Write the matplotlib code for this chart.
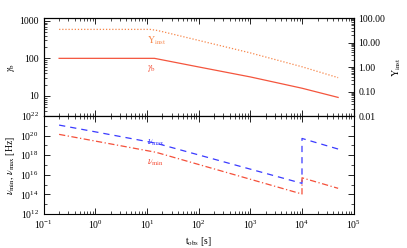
import matplotlib
matplotlib.use("Agg")
import matplotlib.pyplot as plt
from matplotlib.ticker import LogLocator, NullFormatter, FixedLocator, FixedFormatter

plt.rcParams['font.family'] = ['Liberation Serif', 'DejaVu Serif']
plt.rcParams['mathtext.fontset'] = 'stix'
plt.rcParams['font.size'] = 7

# gamma_b (left axis) and Y_inst (right axis), top panel
t_gam = [0.2, 14.0, 100.0, 1000.0, 1.0e4, 5.0e4]
gamma_b = [100.0, 100.0, 59.0, 32.0, 16.0, 9.1]

t_y = [0.2, 11.5, 15.0, 20.5, 100.0, 1000.0, 1.0e4, 5.0e4]
y_inst = [34.6, 34.6, 32.0, 27.6, 12.3, 3.8, 1.03, 0.37]

# nu_max / nu_min, bottom panel
t_nu = [0.2, 15.0, 1.0e4, 1.0e4, 5.0e4]
nu_max = [1.2e21, 1.7e19, 1.35e15, 5.2e19, 4.3e18]
nu_min = [1.35e20, 2.0e18, 1.1e14, 5.0e15, 4.2e14]

c_gam = '#f4553d'
c_y = '#f7864a'
c_max = '#3a3aff'
c_min = '#f5503a'

fig = plt.figure(figsize=(4.07, 2.48), dpi=100)
ax1 = fig.add_axes([0.107, 0.532, 0.762, 0.395])
ax2 = fig.add_axes([0.107, 0.137, 0.762, 0.395], sharex=ax1)

ax1.plot(t_gam, gamma_b, color=c_gam, lw=0.9)
ax1.set_xscale('log')
ax1.set_yscale('log')
ax1.set_xlim(0.1, 1e5)
ax1.set_ylim(2.9, 1180)
ax1.yaxis.set_major_locator(FixedLocator([10, 100, 1000]))
ax1.yaxis.set_major_formatter(FixedFormatter(['10', '100', '1000']))
ax1.yaxis.set_minor_locator(LogLocator(base=10, subs=range(2, 10), numticks=10))
ax1.yaxis.set_minor_formatter(NullFormatter())
ax1.set_ylabel(r'$\gamma_{\rm b}$')
ax1.yaxis.set_label_coords(-0.085, 0.5)
ax1.text(10, 75, r'$\gamma_{\rm b}$', color=c_gam, fontsize=7, va='top')

ax1r = ax1.twinx()
ax1r.plot(t_y, y_inst, color=c_y, lw=0.9, ls=(0, (1, 1.5)))
ax1r.set_yscale('log')
ax1r.set_ylim(0.01, 100)
ax1r.yaxis.set_major_locator(FixedLocator([0.01, 0.1, 1, 10, 100]))
ax1r.yaxis.set_major_formatter(FixedFormatter(['0.01', '0.10', '1.00', '10.00', '100.00']))
ax1r.yaxis.set_minor_formatter(NullFormatter())
ax1r.set_ylabel(r'$\mathrm{Y}_{\rm inst}$')
ax1r.yaxis.set_label_coords(1.12, 0.5)
ax1r.text(10, 22, r'$\mathrm{Y}_{\rm inst}$', color=c_y, fontsize=7, va='top')

ax2.plot(t_nu, nu_max, color=c_max, lw=0.9, ls=(0, (5, 4)))
ax2.plot(t_nu, nu_min, color=c_min, lw=0.9, ls=(0, (5, 2, 1, 2)))
ax2.set_yscale('log')
ax2.set_ylim(1e12, 1e22)
ax2.yaxis.set_major_locator(FixedLocator([1e12, 1e14, 1e16, 1e18, 1e20, 1e22]))
ax2.yaxis.set_minor_locator(FixedLocator([1e13, 1e15, 1e17, 1e19, 1e21]))
ax2.yaxis.set_minor_formatter(NullFormatter())
ax2.set_ylabel(r'$\nu_{\rm min},\,\nu_{\rm max}$ [Hz]')
ax2.yaxis.set_label_coords(-0.085, 0.5)
ax2.set_xlabel(r'$\mathrm{t}_{\rm obs}$ [s]', labelpad=3)
ax2.text(10, 10**19.9, r'$\nu_{\rm max}$', color=c_max, fontsize=7, va='top')
ax2.text(10, 10**17.9, r'$\nu_{\rm min}$', color=c_min, fontsize=7, va='top')

ax2.xaxis.set_major_locator(LogLocator(base=10, numticks=10))
ax2.xaxis.set_minor_locator(LogLocator(base=10, subs=range(2, 10), numticks=10))
ax2.xaxis.set_minor_formatter(NullFormatter())
ax1.tick_params(axis='x', labelbottom=False)

for a in (ax1, ax1r, ax2):
    for s in a.spines.values():
        s.set_linewidth(0.8)
    a.tick_params(which='major', direction='in', length=4, width=0.6, labelsize=7)
    a.tick_params(which='minor', direction='in', length=2, width=0.5)
ax1.tick_params(which='both', top=True, right=False)
ax1r.tick_params(which='both', right=True)
ax2.tick_params(which='both', top=True, right=True)

fig.savefig('out.png', dpi=100)
